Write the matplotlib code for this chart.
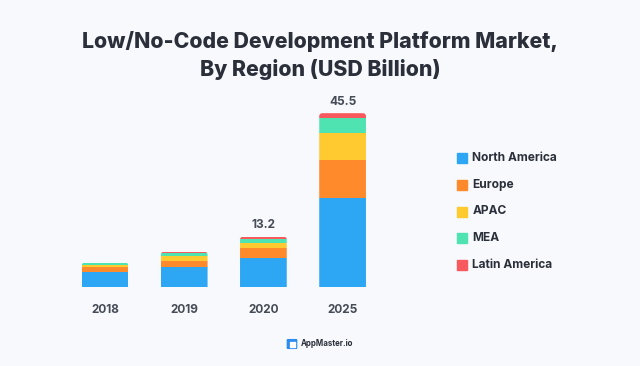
import matplotlib
matplotlib.use("Agg")
import matplotlib.pyplot as plt
from matplotlib.patches import FancyBboxPatch, Rectangle
import numpy as np

years = ["2018", "2019", "2020", "2025"]
regions = ["North America", "Europe", "APAC", "MEA", "Latin America"]
north_america = [4.0, 5.2, 7.5, 23.3]
europe = [1.15, 1.65, 2.8, 9.9]
apac = [0.6, 1.3, 1.15, 7.1]
mea = [0.45, 0.85, 1.05, 3.9]
latin_america = [0.2, 0.25, 0.7, 1.3]
total_labels = {2: "13.2", 3: "45.5"}

colors = ["#2DA7F3", "#FF8A2B", "#FFC930", "#4FE3B1", "#F7595F"]
bg = "#F7F9FC"
dark = "#2B2F3A"
gray = "#464B56"

plt.rcParams['font.family'] = ['Inter', 'DejaVu Sans']

fig = plt.figure(figsize=(6.4, 3.66), dpi=100, facecolor=bg)
W, H = 640, 366
ax_l, ax_r, ax_b, ax_t = 65, 385, 287, 90
px_x, px_y = 79.2, 3.82
ax = fig.add_axes([ax_l / W, (H - ax_b) / H, (ax_r - ax_l) / W, (ax_b - ax_t) / H])
ax.set_facecolor(bg)
x = np.arange(len(years))
ax.set_xlim((ax_l - 105) / px_x, (ax_r - 105) / px_x)
ax.set_ylim(0, (ax_b - ax_t) / px_y)

width = 0.59
series = [north_america, europe, apac, mea, latin_america]
totals = np.sum(np.array(series), axis=0)

# rounded-top clip paths for each bar
clips = []
r = 3.0 / px_x
for i in range(len(years)):
    p = FancyBboxPatch((x[i] - width / 2, -5), width, totals[i] + 5,
                       boxstyle=f"round,pad=0,rounding_size={r}",
                       mutation_aspect=px_x / px_y, transform=ax.transData,
                       facecolor='none', edgecolor='none')
    ax.add_patch(p)
    clips.append(p)

bottom = np.zeros(len(years))
for vals, c, name in zip(series, colors, regions):
    bars = ax.bar(x, vals, bottom=bottom, width=width, color=c, label=name, linewidth=0)
    for b, cp in zip(bars, clips):
        b.set_clip_path(cp)
    bottom += np.array(vals)

for i, lab in total_labels.items():
    ax.text(x[i], totals[i] + 3.05, lab, ha='center', va='center', fontsize=8.5,
            color=gray, fontweight='bold')

for s in ax.spines.values():
    s.set_visible(False)
ax.set_yticks([])
ax.set_xticks(x)
ax.set_xticklabels(years, fontsize=8.5, color=gray, fontweight='bold')
ax.tick_params(axis='x', length=0, pad=12)

# Title
fig.text(0.5, 1 - 41 / H, "Low/No-Code Development Platform Market,", ha='center', va='center',
         fontsize=15.3, fontweight='heavy', color=dark)
fig.text(0.5, 1 - 70 / H, "By Region (USD Billion)", ha='center', va='center',
         fontsize=15.3, fontweight='heavy', color=dark)

# Legend
ys = [158.3, 185, 211.5, 238, 264.5]
for name, c, yy in zip(regions, colors, ys):
    fig.patches.append(Rectangle((457 / W, 1 - (yy + 5) / H), 10 / W, 10 / H,
                                 transform=fig.transFigure, color=c, figure=fig))
    fig.text(472.5 / W, 1 - yy / H, name, ha='left', va='center', fontsize=8.6,
             fontweight='bold', color=dark)

# Footer
fig.patches.append(FancyBboxPatch((288 / W, 1 - 348 / H), 8 / W, 8 / H,
                                  boxstyle="round,pad=0.001", transform=fig.transFigure,
                                  color="#2D8CF0", figure=fig))
for dx in (0, 1):
    for dy in (0, 1):
        fig.patches.append(Rectangle(((289.5 + dx * 3) / W, 1 - (346.5 - dy * 3) / H), 2 / W, 2 / H,
                                     transform=fig.transFigure, color="white", figure=fig))
fig.text(300.5 / W, 1 - 344 / H, "AppMaster.io", ha='left', va='center', fontsize=5.7,
         fontweight='bold', color=dark)

fig.savefig("out.png", dpi=100, facecolor=bg)
